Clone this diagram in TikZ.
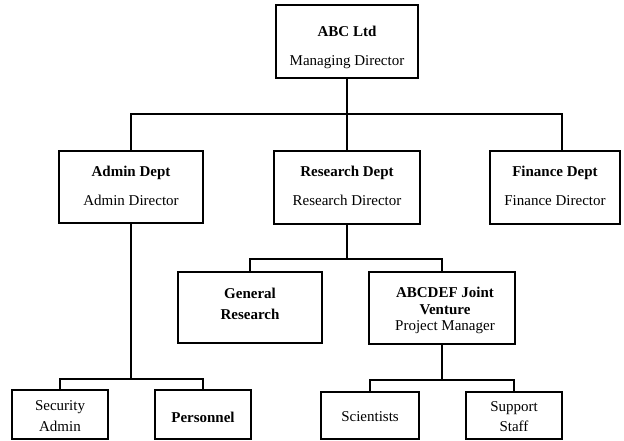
\documentclass[tikz,border=0pt]{standalone}
\usepackage{fontspec}
\setmainfont{Liberation Serif}
\begin{document}
\begin{tikzpicture}[x=1pt,y=-1pt,
  box/.style={draw, line width=1.2pt, rectangle, inner sep=0pt},
  txt/.style={align=center, inner sep=0pt, font=\fontsize{15}{16}\selectfont},
  link/.style={line width=1.2pt}]
  \useasboundingbox (0,0) rectangle (624,441);

  % boxes
  \node[box, minimum width=142pt, minimum height=73pt] (md)  at (347,41.5) {};
  \node[box, minimum width=144pt, minimum height=72pt] (adm) at (131,187) {};
  \node[box, minimum width=146pt, minimum height=73pt] (res) at (347,187.5) {};
  \node[box, minimum width=130pt, minimum height=73pt] (fin) at (555,187.5) {};
  \node[box, minimum width=144pt, minimum height=71pt] (gen) at (250,307.5) {};
  \node[box, minimum width=146pt, minimum height=72pt] (jv)  at (442,308) {};
  \node[box, minimum width=96pt, minimum height=49pt]  (sec) at (60,414.5) {};
  \node[box, minimum width=96pt, minimum height=49pt]  (per) at (203,414.5) {};
  \node[box, minimum width=98pt, minimum height=47pt]  (sci) at (370,415.5) {};
  \node[box, minimum width=96pt, minimum height=47pt]  (sup) at (514,415.5) {};

  % box texts
  \node[txt] (md-t)  at (347,47)    {\textbf{ABC Ltd}\\[13pt]Managing Director};
  \node[txt] (adm-t) at (131,186)   {\textbf{Admin Dept}\\[13pt]Admin Director};
  \node[txt] (res-t) at (347,186)   {\textbf{Research Dept}\\[13pt]Research Director};
  \node[txt] (fin-t) at (555,186)   {\textbf{Finance Dept}\\[13pt]Finance Director};
  \node[txt] (gen-t) at (250,304)   {\textbf{General}\\[5pt]\textbf{Research}};
  \node[txt] (jv-t)  at (445,310)   {\textbf{ABCDEF Joint}\\[1pt]\textbf{Venture}\\Project Manager};
  \node[txt] (sec-t) at (60,416)    {Security\\[5pt]Admin};
  \node[txt] (per-t) at (203,417)   {\textbf{Personnel}};
  \node[txt] (sci-t) at (370,417)   {Scientists};
  \node[txt] (sup-t) at (514,417)   {Support\\[4pt]Staff};

  % connector junctions
  \coordinate (bus1) at (562,114);
  \coordinate (bus2) at (347,259);
  \coordinate (bus3) at (131,379);
  \coordinate (bus4) at (442,380);

  % connectors
  \draw[link] (md.south) -- (res.north);
  \draw[link] (adm.north) |- (bus1) -- (bus1 |- fin.north);
  \draw[link] (res.south) -- (bus2);
  \draw[link] (gen.north) |- (bus2) -| (jv.north);
  \draw[link] (adm.south) -- (bus3);
  \draw[link] (sec.north) |- (bus3) -| (per.north);
  \draw[link] (jv.south) -- (bus4);
  \draw[link] (sci.north) |- (bus4) -| (sup.north);
\end{tikzpicture}
\end{document}
